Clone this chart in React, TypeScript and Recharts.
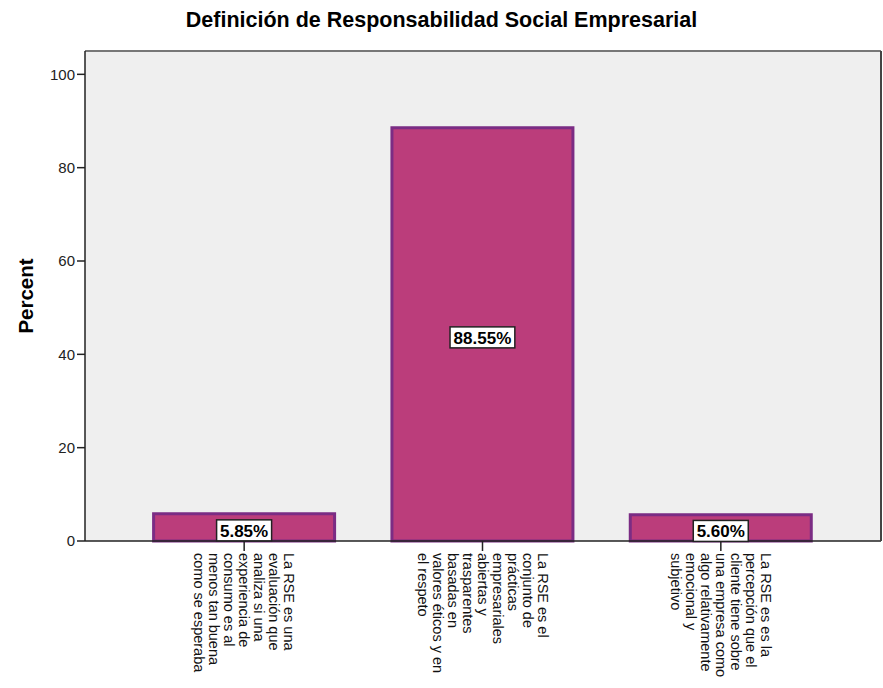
import React from 'react';
import { BarChart, Bar, XAxis, YAxis, CartesianGrid, LabelList, Label, ReferenceLine } from 'recharts';

const categoryLines: string[][] = [
  ['La RSE es una', 'evaluación que', 'analiza si una', 'experiencia de', 'consumo es al', 'menos tan buena', 'como se esperaba'],
  ['La RSE es el', 'conjunto de', 'prácticas', 'empresariales', 'abiertas y', 'trasparentes', 'basadas en', 'valores éticos y en', 'el respeto'],
  ['La RSE es es la', 'percepción que el', 'cliente tiene sobre', 'una empresa como', 'algo relativamente', 'emocional y', 'subjetivo'],
];
const percents = [5.85, 88.55, 5.6];
const yTicks = [0, 20, 40, 60, 80, 100];
const yMax = 105;

// short keys for the category axis, the wrapped text is looked up in the tick
const data = categoryLines.map((_, i) => ({
  key: String(i),
  value: percents[i],
}));

const FONT = '"Liberation Sans", Arial, sans-serif';

const CategoryTick = (props: any) => {
  const { x, y, payload } = props;
  const lines = categoryLines[Number(payload.value)] || [];
  const step = 15;
  return (
    <g>
      {lines.map((line, i) => {
        const lx = x + ((lines.length - 1) / 2 - i) * step;
        return (
          <text
            key={i}
            x={lx}
            y={y}
            transform={`rotate(90, ${lx}, ${y})`}
            textAnchor="start"
            dominantBaseline="central"
            fontFamily={FONT}
            fontSize={14.5}
            fill="#111"
          >
            {line}
          </text>
        );
      })}
    </g>
  );
};

const ValueLabel = (props: any) => {
  const { x, y, width, height, value } = props;
  const text = `${Number(value).toFixed(2)}%`;
  const cx = x + width / 2;
  const cy = y + height / 2 + 3;
  const w = text.length * 9.8 + 6;
  const h = 21;
  return (
    <g>
      <rect x={cx - w / 2} y={cy - h / 2} width={w} height={h} fill="#fff" stroke="#222" strokeWidth={1.5} />
      <text x={cx} y={cy + 1} textAnchor="middle" dominantBaseline="central" fontFamily={FONT} fontWeight="bold" fontSize={17} fill="#000">
        {text}
      </text>
    </g>
  );
};

const PercentLabel = (props: any) => {
  const { viewBox } = props;
  const cx = viewBox.x + 25;
  const cy = viewBox.y + viewBox.height / 2;
  return (
    <text x={cx} y={cy} transform={`rotate(-90, ${cx}, ${cy})`} textAnchor="middle" dominantBaseline="central" fontFamily={FONT} fontWeight="bold" fontSize={20.5} fill="#000">
      Percent
    </text>
  );
};

export default function App() {
  return (
    <div style={{ position: 'relative', width: 883, height: 688, background: '#fff' }}>
      <style>{'html,body{margin:0;padding:0;overflow:hidden;background:#fff}'}</style>
      <div
        style={{
          position: 'absolute',
          left: 0,
          top: 7,
          width: 883,
          textAlign: 'center',
          fontFamily: FONT,
          fontWeight: 'bold',
          fontSize: 21.5,
          lineHeight: '26px',
          color: '#000',
        }}
      >
        Definición de Responsabilidad Social Empresarial
      </div>
      <BarChart
        width={883}
        height={688}
        data={data}
        margin={{ top: 51, right: 1, left: 0, bottom: 7 }}
        barCategoryGap="12%"
      >
        <CartesianGrid xAxisId="x" yAxisId="y" horizontal={false} vertical={false} fill="#EFEFEF" stroke="none" />
        <XAxis
          xAxisId="x"
          dataKey="key"
          height={140}
          padding={{ left: 40, right: 41 }}
          interval={0}
          tickSize={10}
          tickMargin={2}
          tick={<CategoryTick />}
          axisLine={{ stroke: '#222', strokeWidth: 1.5 }}
          tickLine={{ stroke: '#222', strokeWidth: 1.5 }}
        />
        <YAxis
          yAxisId="y"
          domain={[0, yMax]}
          ticks={yTicks}
          width={85}
          tickSize={8}
          tickMargin={2}
          tick={{ fill: '#222', fontFamily: FONT, fontSize: 15 }}
          axisLine={{ stroke: '#222', strokeWidth: 1.5 }}
          tickLine={{ stroke: '#222', strokeWidth: 1.5 }}
          label={<Label content={<PercentLabel />} />}
        />
        <YAxis
          yAxisId="r"
          orientation="right"
          domain={[0, yMax]}
          width={1}
          tick={false}
          axisLine={{ stroke: '#444', strokeWidth: 2 }}
        />
        <ReferenceLine xAxisId="x" yAxisId="y" y={yMax} stroke="#777" strokeWidth={2} />
        <Bar
          xAxisId="x"
          yAxisId="y"
          dataKey="value"
          fill="#BB3D7B"
          stroke="#7B2C84"
          strokeWidth={3}
          isAnimationActive={false}
        >
          <LabelList dataKey="value" content={<ValueLabel />} />
        </Bar>
      </BarChart>
    </div>
  );
}
